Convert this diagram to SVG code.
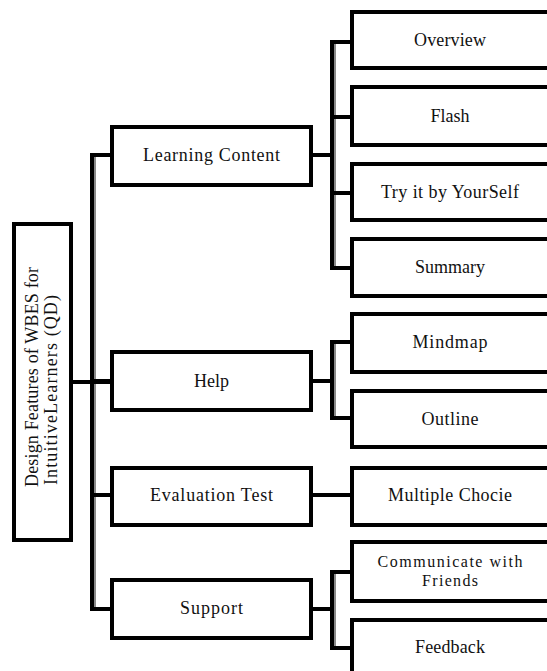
<svg xmlns="http://www.w3.org/2000/svg" width="547" height="671" viewBox="0 0 547 671">
  <style>
    .box { fill: #ffffff; stroke: #000000; stroke-width: 4; }
    .wire { fill: none; stroke: #000000; stroke-width: 4; stroke-linecap: square; }
    .shade { fill: none; stroke: #8a8a8a; stroke-width: 2; }
    .lbl { font-size: 18px; fill: #111111; text-anchor: middle; }
    .lbl2 { font-size: 16px; }
    .root { font-size: 18px; fill: #111111; }
  </style>
  <rect width="547" height="671" fill="#ffffff"/>

  <!-- connectors -->
  <g id="connectors">
    <!-- soft grey edge along the vertical rails -->
    <path class="shade" d="M95 157 V607 M95 495 H108 M335 44 V266 M335 344 V416 M335 574 V646"/>
    <!-- root to trunk -->
    <path class="wire" d="M73 382 H110"/>
    <!-- trunk and level-1 branches -->
    <path class="wire" d="M92 155 V609 M92 155 H110 M92 381 H110 M92 495 H110 M92 609 H110"/>
    <!-- Learning Content children -->
    <path class="wire" d="M313 155 H332 M332 42 V268 M332 42 H352 M332 117 H352 M332 193 H352 M332 268 H352"/>
    <!-- Help children -->
    <path class="wire" d="M313 381 H332 M332 342 V418 M332 342 H352 M332 418 H352"/>
    <!-- Evaluation Test child -->
    <path class="wire" d="M313 495 H352"/>
    <!-- Support children -->
    <path class="wire" d="M313 609 H332 M332 572 V648 M332 572 H352 M332 648 H352"/>
  </g>

  <g font-family="Liberation Serif, DejaVu Serif, serif">
    <!-- root -->
    <g id="root">
      <rect class="box" x="14" y="224" width="57" height="316"/>
      <text class="root" transform="translate(38,487) rotate(-90)" textLength="220">Design Features of WBES for</text>
      <text class="root" transform="translate(57,485) rotate(-90)" textLength="190">IntuitiveLearners (QD)</text>
    </g>

    <!-- level 1 -->
    <g id="learning-content">
      <rect class="box" x="112" y="127" width="199" height="58"/>
      <text class="lbl" x="211.5" y="161" textLength="137">Learning Content</text>
    </g>
    <g id="help">
      <rect class="box" x="112" y="352" width="199" height="58"/>
      <text class="lbl" x="211.5" y="387">Help</text>
    </g>
    <g id="evaluation-test">
      <rect class="box" x="112" y="468" width="199" height="57"/>
      <text class="lbl" x="211.5" y="501" textLength="123">Evaluation Test</text>
    </g>
    <g id="support">
      <rect class="box" x="112" y="580" width="199" height="58"/>
      <text class="lbl" x="211.5" y="614" textLength="63">Support</text>
    </g>

    <!-- level 2 -->
    <g id="overview">
      <rect class="box" x="352" y="12" width="200" height="56"/>
      <text class="lbl" x="450" y="46" textLength="72">Overview</text>
    </g>
    <g id="flash">
      <rect class="box" x="352" y="87" width="200" height="58"/>
      <text class="lbl" x="450" y="122">Flash</text>
    </g>
    <g id="try-it">
      <rect class="box" x="352" y="164" width="200" height="56"/>
      <text class="lbl" x="450" y="198" textLength="138">Try it by YourSelf</text>
    </g>
    <g id="summary">
      <rect class="box" x="352" y="239" width="200" height="57"/>
      <text class="lbl" x="450" y="273" textLength="70">Summary</text>
    </g>
    <g id="mindmap">
      <rect class="box" x="352" y="314" width="200" height="58"/>
      <text class="lbl" x="450" y="348" textLength="75">Mindmap</text>
    </g>
    <g id="outline">
      <rect class="box" x="352" y="391" width="200" height="56"/>
      <text class="lbl" x="450" y="425" textLength="57">Outline</text>
    </g>
    <g id="multiple-choice">
      <rect class="box" x="352" y="468" width="200" height="57"/>
      <text class="lbl" x="450" y="501" textLength="124">Multiple Chocie</text>
    </g>
    <g id="communicate">
      <rect class="box" x="352" y="542" width="200" height="59"/>
      <text class="lbl lbl2" x="450" y="567" textLength="145">Communicate with</text>
      <text class="lbl lbl2" x="450" y="585.5" textLength="56">Friends</text>
    </g>
    <g id="feedback">
      <rect class="box" x="352" y="620" width="200" height="58"/>
      <text class="lbl" x="450" y="653" textLength="70">Feedback</text>
    </g>
  </g>
</svg>
